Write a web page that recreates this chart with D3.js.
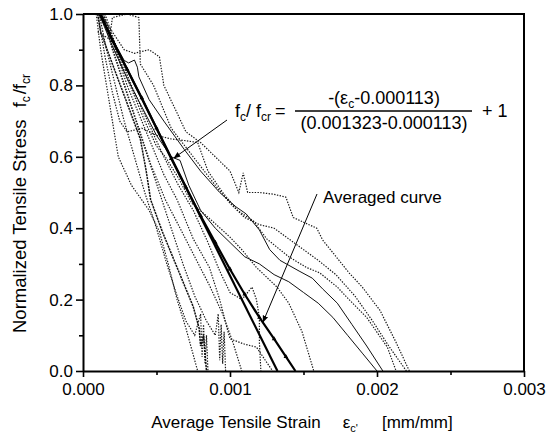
<!DOCTYPE html>
<html>
<head>
<meta charset="utf-8">
<script src="https://cdn.jsdelivr.net/npm/d3@7"></script>
<style>
  body { margin: 0; background: #fff; }
  svg { font-family: "Liberation Sans", Arial, sans-serif; }
</style>
</head>
<body>
<div id="plot"></div>
<script>
// strain is kept in 10^-3 mm/mm, stress is f_c / f_cr
var strainTicks = [0, 1, 2, 3];
var strainTickLabels = ["0.000", "0.001", "0.002", "0.003"];
var strainMinor = [0.5, 1.5, 2.5];
var stressTicks = [0, 0.2, 0.4, 0.6, 0.8, 1.0];
var stressMinor = [0.1, 0.3, 0.5, 0.7, 0.9];

// proposed linear model
var crackStrain = 0.113, ultStrain = 1.323;
var modelLine = [[crackStrain, 1], [ultStrain, 0]];

var averaged = [[0.12, 1.0], [0.2, 0.925], [0.3, 0.845], [0.4, 0.765], [0.5, 0.68], [0.6, 0.595],
  [0.7, 0.515], [0.8, 0.435], [0.9, 0.36], [1.0, 0.285], [1.1, 0.215], [1.2, 0.15],
  [1.3, 0.09], [1.38, 0.04], [1.445, 0]];

// test specimens
var specL1 = [[0.09, 1.0], [0.12, 0.9], [0.16, 0.8], [0.2, 0.7], [0.24, 0.6], [0.33, 0.52], [0.45, 0.45],
  [0.52, 0.39], [0.58, 0.3], [0.64, 0.2], [0.7, 0.12], [0.74, 0.06], [0.78, 0]];
var specL2 = [[0.1, 1.0], [0.12, 0.95], [0.2, 0.86], [0.3, 0.75], [0.39, 0.65], [0.43, 0.56], [0.46, 0.48],
  [0.54, 0.39], [0.64, 0.29], [0.75, 0.18], [0.79, 0.12], [0.8, 0.07], [0.82, 0.1], [0.84, 0]];
var specL3 = [[0.13, 1.0], [0.2, 0.9], [0.28, 0.8], [0.36, 0.7], [0.44, 0.6], [0.52, 0.5], [0.6, 0.4],
  [0.68, 0.3], [0.76, 0.21], [0.84, 0.14], [0.9, 0.1], [0.92, 0.16], [0.93, 0.03], [0.94, 0.13],
  [0.95, 0.02], [0.96, 0.11], [0.97, 0]];
var specL5 = [[0.14, 1.0], [0.22, 0.9], [0.3, 0.8], [0.38, 0.72], [0.45, 0.65], [0.55, 0.55], [0.64, 0.48],
  [0.75, 0.37], [0.86, 0.29], [0.93, 0.2], [0.98, 0.12], [1.0, 0.09], [1.1, 0.075], [1.18, 0.067],
  [1.24, 0.03], [1.29, 0]];
var specL6 = [[0.13, 1.0], [0.22, 0.88], [0.3, 0.78], [0.38, 0.68], [0.46, 0.58], [0.56, 0.48], [0.66, 0.4],
  [0.76, 0.32], [0.86, 0.24], [0.95, 0.16], [1.02, 0.08], [1.08, 0]];
var specL7 = [[0.11, 1.0], [0.16, 0.9], [0.22, 0.8], [0.28, 0.7], [0.35, 0.6], [0.42, 0.5], [0.5, 0.4],
  [0.57, 0.3], [0.64, 0.21], [0.7, 0.14], [0.76, 0.1], [0.8, 0.16], [0.81, 0.04], [0.82, 0.13],
  [0.83, 0.02], [0.84, 0.1], [0.85, 0]];
var specM1 = [[0.14, 1.0], [0.22, 0.9], [0.32, 0.8], [0.42, 0.7], [0.5, 0.63], [0.56, 0.6], [0.65, 0.54],
  [0.74, 0.47], [0.88, 0.42], [1.0, 0.375], [1.08, 0.34], [1.18, 0.29], [1.32, 0.235], [1.4, 0.19],
  [1.49, 0.11], [1.57, 0]];
var specM2 = [[0.15, 1.0], [0.25, 0.88], [0.35, 0.78], [0.45, 0.69], [0.55, 0.6], [0.65, 0.52], [0.75, 0.45],
  [0.85, 0.36], [0.93, 0.28], [1.0, 0.22], [1.08, 0.2], [1.15, 0.235], [1.18, 0.2], [1.2, 0.15],
  [1.2, 0.08], [1.21, 0]];
var specR1 = [[0.12, 1.0], [0.2, 0.93], [0.28, 0.87], [0.31, 0.863], [0.35, 0.871], [0.37, 0.851], [0.38, 0.824],
  [0.45, 0.76], [0.55, 0.7], [0.69, 0.62], [0.8, 0.56], [0.93, 0.5], [1.04, 0.46], [1.11, 0.44],
  [1.2, 0.395], [1.27, 0.34], [1.34, 0.31], [1.47, 0.28], [1.56, 0.26], [1.63, 0.23], [1.73, 0.19],
  [1.83, 0.13], [1.93, 0.07], [2.04, 0]];
var specS2 = [[0.11, 1.0], [0.2, 0.91], [0.3, 0.82], [0.4, 0.74], [0.5, 0.66], [0.6, 0.6], [0.66, 0.59],
  [0.72, 0.52], [0.8, 0.45], [0.9, 0.4], [1.0, 0.36], [1.1, 0.32], [1.2, 0.3], [1.3, 0.27], [1.4, 0.25],
  [1.5, 0.22], [1.6, 0.19], [1.7, 0.15], [1.8, 0.1], [1.9, 0.05], [2.0, 0]];
var specR2 = [[0.12, 1.0], [0.2, 0.95], [0.28, 0.9], [0.35, 0.89], [0.45, 0.9], [0.52, 0.88], [0.55, 0.8],
  [0.62, 0.74], [0.7, 0.67], [0.8, 0.64], [0.9, 0.6], [1.0, 0.56], [1.06, 0.5], [1.09, 0.555], [1.12, 0.5],
  [1.2, 0.5], [1.3, 0.495], [1.38, 0.487], [1.43, 0.43], [1.59, 0.4], [1.63, 0.367], [1.81, 0.275],
  [1.9, 0.235], [2.02, 0.17], [2.13, 0.08], [2.22, 0]];
var specR3 = [[0.1, 1.0], [0.15, 0.88], [0.2, 0.78], [0.25, 0.7], [0.3, 0.67], [0.4, 0.68], [0.5, 0.66],
  [0.6, 0.65], [0.7, 0.645], [0.78, 0.64], [0.85, 0.56], [0.95, 0.5], [1.05, 0.45], [1.16, 0.42],
  [1.25, 0.37], [1.4, 0.32], [1.52, 0.29], [1.61, 0.275], [1.73, 0.235], [1.81, 0.2], [1.93, 0.15],
  [2.07, 0.067], [2.13, 0]];
var specR4 = [[0.1, 0.95], [0.18, 0.93], [0.2, 0.99], [0.3, 1.0], [0.38, 0.99], [0.39, 0.86], [0.48, 0.8],
  [0.6, 0.68], [0.75, 0.6], [0.9, 0.52], [1.0, 0.47], [1.1, 0.43], [1.2, 0.41], [1.3, 0.4], [1.4, 0.37],
  [1.5, 0.34], [1.6, 0.31], [1.72, 0.27], [1.85, 0.21], [1.97, 0.14], [2.08, 0.07], [2.2, 0]];

var dottedSpecs = [specL1, specL3, specL5, specL6, specL7, specM1, specM2, specR2, specR3, specR4];
var solidSpecs = [specR1, specS2];

var width = 549, height = 436;

var xScale = d3.scaleLinear().domain([0, 3]).range([83, 524]);
var yScale = d3.scaleLinear().domain([0, 1]).range([371, 14]);

var svg = d3.select("#plot").append("svg")
  .attr("width", width)
  .attr("height", height);

svg.append("defs").append("clipPath").attr("id", "clip")
  .append("rect")
  .attr("x", xScale(0)).attr("y", yScale(1) - 1)
  .attr("width", xScale(3) - xScale(0)).attr("height", yScale(0) - yScale(1) + 2);

var marker = svg.select("defs").append("marker")
  .attr("id", "arrow")
  .attr("viewBox", "0 0 10 10")
  .attr("refX", 9).attr("refY", 5)
  .attr("markerWidth", 7).attr("markerHeight", 7)
  .attr("markerUnits", "userSpaceOnUse")
  .attr("orient", "auto");
marker.append("path").attr("d", "M0,1 L10,5 L0,9 Z").attr("fill", "#000");

var plotLine = d3.line()
  .x(function (d) { return xScale(d[0]); })
  .y(function (d) { return yScale(d[1]); });

var curves = svg.append("g").attr("clip-path", "url(#clip)");

curves.selectAll(".dotted")
  .data(dottedSpecs)
  .enter().append("path")
  .attr("class", "dotted")
  .attr("d", plotLine)
  .attr("fill", "none")
  .attr("stroke", "#1a1a1a")
  .attr("stroke-width", 1.2)
  .attr("stroke-dasharray", "1.4,1.4");

curves.append("path")
  .datum(specL2)
  .attr("d", plotLine)
  .attr("fill", "none")
  .attr("stroke", "#111")
  .attr("stroke-width", 1.5)
  .attr("stroke-dasharray", "2.2,0.8");

curves.selectAll(".solid")
  .data(solidSpecs)
  .enter().append("path")
  .attr("class", "solid")
  .attr("d", plotLine)
  .attr("fill", "none")
  .attr("stroke", "#111")
  .attr("stroke-width", 1);

curves.append("path")
  .datum(modelLine)
  .attr("d", plotLine)
  .attr("fill", "none")
  .attr("stroke", "#000")
  .attr("stroke-width", 2.2);

curves.append("path")
  .datum(averaged)
  .attr("d", plotLine)
  .attr("fill", "none")
  .attr("stroke", "#000")
  .attr("stroke-width", 2.2);

curves.selectAll(".avgpt")
  .data(averaged.slice(1, -1))
  .enter().append("path")
  .attr("class", "avgpt")
  .attr("transform", function (d) { return "translate(" + xScale(d[0]) + "," + yScale(d[1]) + ")"; })
  .attr("d", d3.symbol().type(d3.symbolTriangle).size(9))
  .attr("fill", "#000");

// axes
function styleAxis(g) {
  g.attr("font-family", null).attr("font-size", 17);
  g.selectAll("text").attr("fill", "#000");
  g.selectAll("line").attr("stroke", "#000").attr("stroke-width", 1.6);
  g.select(".domain").attr("stroke", "#000").attr("stroke-width", 2);
}

svg.append("g")
  .attr("transform", "translate(0," + yScale(0) + ")")
  .call(d3.axisBottom(xScale).tickValues(strainTicks)
    .tickFormat(function (d, i) { return strainTickLabels[i]; })
    .tickSize(6).tickSizeOuter(0).tickPadding(6))
  .call(styleAxis);

svg.append("g")
  .attr("transform", "translate(0," + yScale(0) + ")")
  .call(d3.axisBottom(xScale).tickValues(strainMinor).tickFormat("").tickSize(4))
  .call(styleAxis)
  .call(function (g) { g.select(".domain").remove(); });

svg.append("g")
  .attr("transform", "translate(" + xScale(0) + ",0)")
  .call(d3.axisLeft(yScale).tickValues(stressTicks).tickFormat(d3.format(".1f"))
    .tickSize(7).tickSizeOuter(0).tickPadding(3))
  .call(styleAxis);

svg.append("g")
  .attr("transform", "translate(" + xScale(0) + ",0)")
  .call(d3.axisLeft(yScale).tickValues(stressMinor).tickFormat("").tickSize(4))
  .call(styleAxis)
  .call(function (g) { g.select(".domain").remove(); });

// top and right frame
svg.append("path")
  .attr("d", "M" + xScale(0) + "," + yScale(1) + "H" + xScale(3) + "V" + yScale(0))
  .attr("fill", "none")
  .attr("stroke", "#000")
  .attr("stroke-width", 2);

// axis titles
var xt = svg.append("text")
  .attr("x", 302).attr("y", 428)
  .attr("text-anchor", "middle")
  .attr("font-size", 17);
xt.append("tspan").text("Average Tensile Strain");
xt.append("tspan").attr("dx", 22).text("ε");
xt.append("tspan").attr("dy", 4).attr("font-size", 11).text("c'");
xt.append("tspan").attr("dx", 24).attr("dy", -4).text("[mm/mm]");

var yt = svg.append("text")
  .attr("transform", "translate(26,333) rotate(-90)")
  .attr("font-size", 18.5);
yt.append("tspan").text("Normalized Tensile Stress");
yt.append("tspan").attr("dx", 12).text("f");
yt.append("tspan").attr("dy", 4).attr("font-size", 12).text("c");
yt.append("tspan").attr("dx", 2).attr("dy", -4).text("/f");
yt.append("tspan").attr("dy", 4).attr("font-size", 12).text("cr");

// model equation
var eq = svg.append("g").attr("font-size", 18);
var lhs = eq.append("text").attr("x", 235).attr("y", 117);
lhs.append("tspan").text("f");
lhs.append("tspan").attr("dy", 4).attr("font-size", 12).text("c");
lhs.append("tspan").attr("dy", -4).text("/ f");
lhs.append("tspan").attr("dy", 4).attr("font-size", 12).text("cr");
lhs.append("tspan").attr("dy", -4).attr("dx", 4).text("=");

var num = eq.append("text").attr("x", 384).attr("y", 104).attr("text-anchor", "middle");
num.append("tspan").text("-(ε");
num.append("tspan").attr("dy", 4).attr("font-size", 12).text("c");
num.append("tspan").attr("dy", -4).text("-0.000113)");

eq.append("line")
  .attr("x1", 295).attr("x2", 472).attr("y1", 111).attr("y2", 111)
  .attr("stroke", "#000").attr("stroke-width", 1.3);

eq.append("text").attr("x", 384).attr("y", 129).attr("text-anchor", "middle")
  .text("(0.001323-0.000113)");

eq.append("text").attr("x", 482).attr("y", 117).text("+ 1");

// leaders
svg.append("line")
  .attr("x1", 227).attr("y1", 120).attr("x2", 174).attr("y2", 158)
  .attr("stroke", "#000").attr("stroke-width", 1)
  .attr("marker-end", "url(#arrow)");

svg.append("text").attr("x", 323).attr("y", 203).attr("font-size", 17).text("Averaged curve");

svg.append("line")
  .attr("x1", 317).attr("y1", 194).attr("x2", 263).attr("y2", 322)
  .attr("stroke", "#000").attr("stroke-width", 1)
  .attr("marker-end", "url(#arrow)");
</script>
</body>
</html>
